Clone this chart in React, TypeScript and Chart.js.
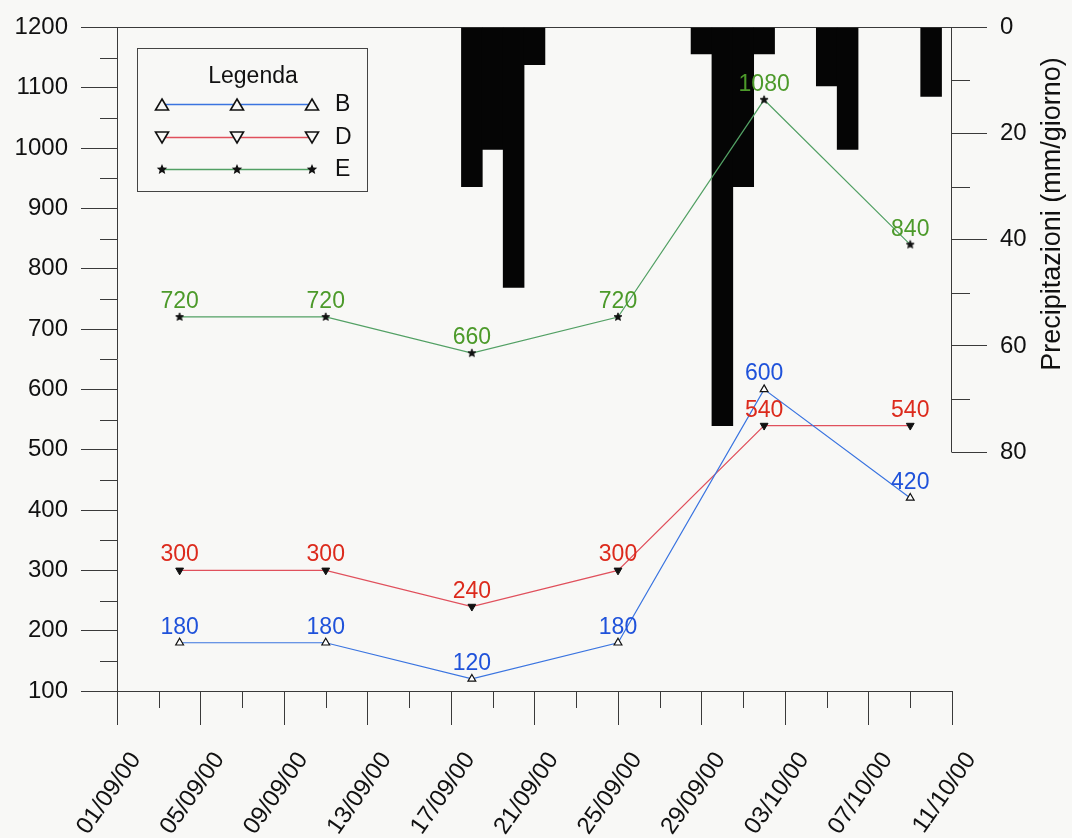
import React, { useEffect, useRef } from 'react';
import { Chart, registerables } from 'chart.js';

Chart.register(...registerables);

// ---- data ----
const xTickLabels = ['01/09/00', '05/09/00', '09/09/00', '13/09/00', '17/09/00', '21/09/00', '25/09/00', '29/09/00', '03/10/00', '07/10/00', '11/10/00'];
const sampleDates = ['04/09/00', '11/09/00', '18/09/00', '25/09/00', '02/10/00', '09/10/00'];
const seriesB = [180, 180, 120, 180, 600, 420];
const seriesD = [300, 300, 240, 300, 540, 540];
const seriesE = [720, 720, 660, 720, 1080, 840];
const rainDates = ['18/09/00', '19/09/00', '20/09/00', '21/09/00', '29/09/00', '30/09/00', '01/10/00', '02/10/00', '05/10/00', '06/10/00', '10/10/00'];
const rainValues = [30, 23, 49, 7, 5, 75, 30, 5, 11, 23, 13];
const seriesNames = ['B', 'D', 'E'];
const legendTitle = 'Legenda';
const rainAxisTitle = 'Precipitazioni (mm/giorno)';

// ---- style ----
const FONT = '"Liberation Sans", Arial, Helvetica, sans-serif';
const AXIS = '#3a3a3a';
const BG = '#f8f8f6';
const lineColors = ['#3a74e0', '#e0505c', '#52a064'];
const labelColors = ['#1f52da', '#dc2a1c', '#4c9a2a'];

const W = 1072;
const H = 838;
const AREA = { left: 117, right: 952, top: 24, bottom: 691 };

const START = Date.UTC(2000, 8, 1);
function dayIndex(d: string): number {
  const [dd, mm, yy] = d.split('/').map((s) => parseInt(s, 10));
  return Math.round((Date.UTC(2000 + yy, mm - 1, dd) - START) / 86400000);
}

function makeStar(r: number): HTMLCanvasElement {
  const c = document.createElement('canvas');
  const size = Math.ceil(r * 2 + 3);
  c.width = size;
  c.height = size;
  const g = c.getContext('2d') as CanvasRenderingContext2D;
  g.beginPath();
  for (let i = 0; i < 10; i++) {
    const a = -Math.PI / 2 + (i * Math.PI) / 5;
    const rr = i % 2 === 0 ? r : r * 0.45;
    g.lineTo(size / 2 + rr * Math.cos(a), size / 2 + rr * Math.sin(a));
  }
  g.closePath();
  g.fillStyle = '#111';
  g.fill();
  g.strokeStyle = '#111';
  g.lineWidth = 0.8;
  g.stroke();
  return c;
}

function triPath(ctx: CanvasRenderingContext2D, x: number, y: number, w: number, h: number, down: boolean) {
  ctx.beginPath();
  if (!down) {
    ctx.moveTo(x, y - h / 2);
    ctx.lineTo(x + w / 2, y + h / 2);
    ctx.lineTo(x - w / 2, y + h / 2);
  } else {
    ctx.moveTo(x, y + h / 2);
    ctx.lineTo(x + w / 2, y - h / 2);
    ctx.lineTo(x - w / 2, y - h / 2);
  }
  ctx.closePath();
}

function starPath(ctx: CanvasRenderingContext2D, x: number, y: number, r: number) {
  ctx.beginPath();
  for (let i = 0; i < 10; i++) {
    const a = -Math.PI / 2 + (i * Math.PI) / 5;
    const rr = i % 2 === 0 ? r : r * 0.45;
    ctx.lineTo(x + rr * Math.cos(a), y + rr * Math.sin(a));
  }
  ctx.closePath();
}

const bgPlugin = {
  id: 'bg',
  beforeDraw(chart: any) {
    const ctx = chart.ctx;
    ctx.save();
    ctx.fillStyle = BG;
    ctx.fillRect(0, 0, chart.width, chart.height);
    ctx.restore();
  },
};

const axesExtraPlugin = {
  id: 'axesExtra',
  afterDraw(chart: any) {
    const ctx = chart.ctx as CanvasRenderingContext2D;
    const ca = chart.chartArea;
    const a = (v: number) => Math.round(v) + 0.5;
    ctx.save();
    ctx.strokeStyle = AXIS;
    ctx.lineWidth = 1;
    const seg = (x1: number, y1: number, x2: number, y2: number) => {
      ctx.beginPath();
      ctx.moveTo(x1, y1);
      ctx.lineTo(x2, y2);
      ctx.stroke();
    };
    const xs = chart.scales.x;
    xs.ticks.forEach((t: any) => {
      if (t.value % 4 !== 0) {
        const px = a(xs.getPixelForValue(t.value));
        seg(px, ca.bottom, px, ca.bottom + 17);
      }
    });
    const ys = chart.scales.y;
    ys.ticks.forEach((t: any) => {
      if (t.value % 100 !== 0) {
        const py = a(ys.getPixelForValue(t.value));
        seg(ca.left - 17, py, ca.left, py);
      }
    });
    const yr = chart.scales.yRain;
    yr.ticks.forEach((t: any) => {
      if (t.value % 20 !== 0) {
        const py = a(yr.getPixelForValue(t.value));
        seg(ca.right, py, ca.right + 18, py);
      }
    });
    const xr = a(ca.right) - 1;
    seg(xr, yr.getPixelForValue(0), xr, a(yr.getPixelForValue(80)));
    ctx.restore();
  },
};

const dataLabelPlugin = {
  id: 'dataLabels',
  afterDatasetsDraw(chart: any) {
    const ctx = chart.ctx as CanvasRenderingContext2D;
    ctx.save();
    ctx.font = `23px ${FONT}`;
    ctx.textAlign = 'center';
    ctx.textBaseline = 'alphabetic';
    chart.data.datasets.forEach((ds: any, i: number) => {
      if (ds.type !== 'line') return;
      const meta = chart.getDatasetMeta(i);
      meta.data.forEach((el: any, j: number) => {
        ctx.fillStyle = labelColors[ds.seriesIndex];
        ctx.fillText(String(ds.data[j].y), el.x, el.y - 9);
      });
    });
    ctx.restore();
  },
};

const legendPlugin = {
  id: 'customLegend',
  afterDraw(chart: any) {
    const ctx = chart.ctx as CanvasRenderingContext2D;
    ctx.save();
    ctx.fillStyle = BG;
    ctx.fillRect(137.5, 48.5, 230, 143);
    ctx.strokeStyle = '#444';
    ctx.lineWidth = 1;
    ctx.strokeRect(137.5, 48.5, 230, 143);
    ctx.fillStyle = '#111';
    ctx.font = `23px ${FONT}`;
    ctx.textAlign = 'center';
    ctx.textBaseline = 'middle';
    ctx.fillText(legendTitle, 253, 77);
    const rows = [104, 137, 169];
    seriesNames.forEach((name, i) => {
      const y = rows[i] + 0.5;
      ctx.strokeStyle = lineColors[i];
      ctx.lineWidth = 1.5;
      ctx.beginPath();
      ctx.moveTo(162, y);
      ctx.lineTo(312, y);
      ctx.stroke();
      [162, 237, 312].forEach((mx) => {
        ctx.strokeStyle = '#111';
        ctx.lineWidth = 1.6;
        if (i === 2) {
          starPath(ctx, mx, y, 5.5);
          ctx.fillStyle = '#111';
          ctx.fill();
        } else {
          triPath(ctx, mx, y, 13, 11, i === 1);
          ctx.fillStyle = BG;
          ctx.fill();
          ctx.stroke();
        }
      });
      ctx.fillStyle = '#111';
      ctx.textAlign = 'left';
      ctx.font = `23px ${FONT}`;
      ctx.fillText(name, 335, rows[i] + 1);
    });
    ctx.restore();
  },
};

const rightTitlePlugin = {
  id: 'rightTitle',
  afterDraw(chart: any) {
    const ctx = chart.ctx as CanvasRenderingContext2D;
    ctx.save();
    ctx.translate(1053, 214);
    ctx.rotate(-Math.PI / 2);
    ctx.fillStyle = '#111';
    ctx.font = `27px ${FONT}`;
    ctx.textAlign = 'center';
    ctx.textBaseline = 'middle';
    ctx.fillText(rainAxisTitle, 0, 0);
    ctx.restore();
  },
};

export default function App() {
  const ref = useRef<HTMLCanvasElement | null>(null);

  useEffect(() => {
    if (!ref.current) return;
    const xs = sampleDates.map(dayIndex);
    const mk = (vals: number[]) => vals.map((v, i) => ({ x: xs[i], y: v }));
    const star = makeStar(4.2);
    const tickColorFn = (mod: number) => (c: any) =>
      c.tick && c.tick.value % mod === 0 ? AXIS : 'rgba(0,0,0,0)';

    const chart = new Chart(ref.current, {
      type: 'line',
      data: {
        datasets: [
          {
            type: 'line',
            label: seriesNames[0],
            seriesIndex: 0,
            data: mk(seriesB),
            borderColor: lineColors[0],
            borderWidth: 1.2,
            pointStyle: 'triangle',
            pointRadius: 4.5,
            pointBorderColor: '#111',
            pointBackgroundColor: '#fff',
            pointBorderWidth: 1.2,
            tension: 0,
            yAxisID: 'y',
            order: 0,
          },
          {
            type: 'line',
            label: seriesNames[1],
            seriesIndex: 1,
            data: mk(seriesD),
            borderColor: lineColors[1],
            borderWidth: 1.2,
            pointStyle: 'triangle',
            pointRotation: 180,
            pointRadius: 4.5,
            pointBorderColor: '#111',
            pointBackgroundColor: '#111',
            pointBorderWidth: 1,
            tension: 0,
            yAxisID: 'y',
            order: 1,
          },
          {
            type: 'line',
            label: seriesNames[2],
            seriesIndex: 2,
            data: mk(seriesE),
            borderColor: lineColors[2],
            borderWidth: 1.2,
            pointStyle: star,
            tension: 0,
            yAxisID: 'y',
            order: 2,
          },
          {
            type: 'bar',
            label: 'Precipitazioni',
            data: rainDates.map((d, i) => ({ x: dayIndex(d), y: rainValues[i] })),
            backgroundColor: '#050505',
            borderWidth: 0,
            barPercentage: 1,
            categoryPercentage: 1,
            grouped: false,
            yAxisID: 'yRain',
            order: 10,
          },
        ] as any,
      },
      options: {
        animation: false,
        responsive: false,
        devicePixelRatio: 1,
        layout: { padding: { top: AREA.top, left: 0, right: 0, bottom: 0 } },
        plugins: { legend: { display: false }, tooltip: { enabled: false } },
        scales: {
          x: {
            type: 'linear',
            position: 'bottom',
            min: 0,
            max: 40,
            offset: false,
            afterFit: (s: any) => {
              s.height = H - AREA.bottom;
            },
            ticks: {
              stepSize: 2,
              autoSkip: false,
              minRotation: 55,
              maxRotation: 55,
              padding: 22,
              labelOffset: 19,
              color: '#111',
              font: { family: FONT, size: 24 },
              callback: (v: any) => (v % 4 === 0 ? xTickLabels[v / 4] : ''),
            },
            grid: {
              offset: false,
              drawOnChartArea: false,
              drawTicks: true,
              tickLength: 34,
              tickColor: tickColorFn(4),
              tickWidth: 1,
            },
            border: { display: true, color: AXIS, width: 1 },
          },
          y: {
            type: 'linear',
            position: 'left',
            min: 100,
            max: 1200,
            afterFit: (s: any) => {
              s.width = AREA.left;
            },
            ticks: {
              stepSize: 50,
              autoSkip: false,
              padding: 13,
              color: '#111',
              font: { family: FONT, size: 24 },
              callback: (v: any) => (v % 100 === 0 ? String(v) : ''),
            },
            grid: {
              offset: false,
              drawOnChartArea: true,
              color: (c: any) => (c.tick && c.tick.value === 1200 ? AXIS : 'rgba(0,0,0,0)'),
              tickLength: 36,
              tickColor: tickColorFn(100),
              tickWidth: 1,
            },
            border: { display: true, color: AXIS, width: 1 },
          },
          yRain: {
            type: 'linear',
            position: 'right',
            reverse: true,
            min: 0,
            max: 125,
            afterBuildTicks: (s: any) => {
              s.ticks = s.ticks.filter((t: any) => t.value <= 80);
            },
            afterFit: (s: any) => {
              s.width = W - AREA.right;
            },
            ticks: {
              stepSize: 10,
              autoSkip: false,
              padding: 13,
              color: '#111',
              font: { family: FONT, size: 24 },
              callback: (v: any) => (v % 20 === 0 ? String(v) : ''),
            },
            grid: {
              offset: false,
              drawOnChartArea: false,
              tickLength: 35,
              tickColor: tickColorFn(20),
              tickWidth: 1,
            },
            border: { display: false },
          },
        },
      } as any,
      plugins: [bgPlugin, axesExtraPlugin, dataLabelPlugin, legendPlugin, rightTitlePlugin],
    });
    return () => chart.destroy();
  }, []);

  return (
    <div style={{ position: 'fixed', left: 0, top: 0, width: W, height: H }}>
      <canvas ref={ref} width={W} height={H} style={{ width: W, height: H, display: 'block' }} />
    </div>
  );
}
